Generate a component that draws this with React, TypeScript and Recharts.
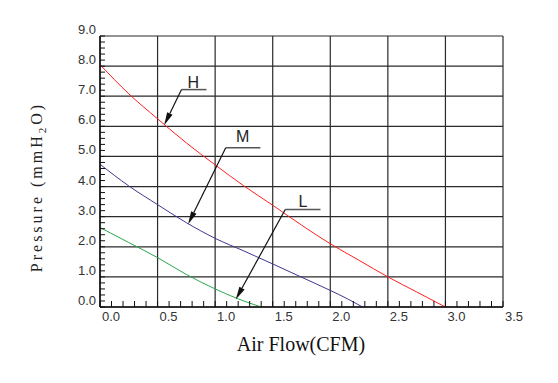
import React from "react";
import {
  LineChart, Line, XAxis, YAxis, CartesianGrid,
  ReferenceLine, ReferenceDot, Label
} from "recharts";

// fan curves (CFM, mmH2O)
const highCurve = [
  { x: 0, y: 8.05 }, { x: 0.25, y: 7.08 }, { x: 0.5, y: 6.25 }, { x: 0.75, y: 5.45 },
  { x: 1.0, y: 4.72 }, { x: 1.25, y: 4.02 }, { x: 1.5, y: 3.38 }, { x: 1.75, y: 2.72 },
  { x: 2.0, y: 2.1 }, { x: 2.25, y: 1.55 }, { x: 2.5, y: 1.0 }, { x: 2.75, y: 0.5 },
  { x: 3.0, y: 0 },
];
const midCurve = [
  { x: 0, y: 4.74 }, { x: 0.25, y: 4.02 }, { x: 0.5, y: 3.4 }, { x: 0.75, y: 2.8 },
  { x: 1.0, y: 2.28 }, { x: 1.25, y: 1.86 }, { x: 1.5, y: 1.43 }, { x: 1.75, y: 0.99 },
  { x: 2.0, y: 0.55 }, { x: 2.15, y: 0.27 }, { x: 2.28, y: 0 },
];
const lowCurve = [
  { x: 0, y: 2.64 }, { x: 0.25, y: 2.14 }, { x: 0.5, y: 1.64 }, { x: 0.75, y: 1.08 },
  { x: 1.0, y: 0.6 }, { x: 1.2, y: 0.27 }, { x: 1.4, y: 0 },
];

// axes
const xMajor = [0, 0.5, 1.0, 1.5, 2.0, 2.5, 3.0, 3.5];
const yMajor = [0, 1, 2, 3, 4, 5, 6, 7, 8, 9];
const xMinor = Array.from({ length: 36 }, (_, i) => i / 10);
const yMinor = Array.from({ length: 46 }, (_, i) => i / 5);

// curve call-outs: label, label pos, elbow, end of shelf, arrow tip
const callouts = [
  { name: "H", label: { x: 0.81, y: 7.47 }, elbow: { x: 0.708, y: 7.22 }, shelfEnd: 0.925, tip: { x: 0.557, y: 6.04 } },
  { name: "M", label: { x: 1.24, y: 5.65 }, elbow: { x: 1.092, y: 5.29 }, shelfEnd: 1.393, tip: { x: 0.765, y: 2.75 } },
  { name: "L", label: { x: 1.762, y: 3.49 }, elbow: { x: 1.609, y: 3.24 }, shelfEnd: 1.915, tip: { x: 1.179, y: 0.25 } },
];

const tickFont = "'Liberation Sans Narrow', 'Liberation Sans', Arial, sans-serif";
const serif = "'Liberation Serif', 'Times New Roman', serif";

const isHalf = (v: number) => Math.abs(v * 2 - Math.round(v * 2)) < 1e-9;
const isWhole = (v: number) => Math.abs(v - Math.round(v)) < 1e-9;

function XTick({ x, y, payload }: any) {
  const v = payload.value;
  return (
    <g>
      <line x1={x} y1={y} x2={x} y2={y - 6} stroke="#111" strokeWidth={1} />
      {isHalf(v) && (
        <text x={x + 11} y={y + 14} textAnchor="middle" fontSize={13}
          fontFamily={tickFont} fill="#333">
          {v.toFixed(1)}
        </text>
      )}
    </g>
  );
}

function YTick({ x, y, payload }: any) {
  const v = payload.value;
  return (
    <g>
      <line x1={x} y1={y} x2={x + 5} y2={y} stroke="#111" strokeWidth={1} />
      {isWhole(v) && (
        <text x={x - 4} y={y - 2} textAnchor="end" fontSize={13}
          fontFamily={tickFont} fill="#333">
          {v.toFixed(1)}
        </text>
      )}
    </g>
  );
}

function Arrow(props: any) {
  const { x1, y1, x2, y2 } = props;
  const dx = x2 - x1, dy = y2 - y1;
  const len = Math.sqrt(dx * dx + dy * dy) || 1;
  const ux = dx / len, uy = dy / len;
  const hl = 13, hw = 3;
  const bx = x2 - ux * hl, by = y2 - uy * hl;
  const pts = `${x2},${y2} ${bx - uy * hw},${by + ux * hw} ${bx + uy * hw},${by - ux * hw}`;
  return (
    <g>
      <line x1={x1} y1={y1} x2={bx} y2={by} stroke="#111" strokeWidth={1.2} />
      <polygon points={pts} fill="#111" />
    </g>
  );
}

function Shelf(props: any) {
  const { x1, y1, x2, y2 } = props;
  return <line x1={x1} y1={y1} x2={x2} y2={y2} stroke="#555" strokeWidth={1.5} />;
}

export default function App() {
  return (
    <div style={{ width: 558, height: 383, background: "#fff" }}>
      <style>{"body{margin:0}"}</style>
      <LineChart width={558} height={383} margin={{ top: 36, right: 55, left: 0, bottom: 0 }}>
        <CartesianGrid
          stroke="#2a2a2a"
          strokeWidth={1.2}
          horizontalValues={yMajor}
          verticalValues={xMajor}
        />
        <XAxis
          type="number"
          dataKey="x"
          domain={[0, 3.5]}
          ticks={xMinor}
          interval={0}
          height={76}
          tickLine={false}
          tickSize={0}
          tickMargin={0}
          tick={<XTick />}
          axisLine={{ stroke: "#111", strokeWidth: 1.5 }}
          allowDataOverflow
        >
          <Label
            content={() => (
              <text x={301} y={351} textAnchor="middle" fontSize={20}
                fontFamily={serif} fill="#111">
                Air Flow(CFM)
              </text>
            )}
          />
        </XAxis>
        <YAxis
          type="number"
          domain={[0, 9]}
          ticks={yMinor}
          interval={0}
          width={100}
          tickLine={false}
          tickSize={0}
          tickMargin={0}
          tick={<YTick />}
          axisLine={{ stroke: "#111", strokeWidth: 1.5 }}
          allowDataOverflow
        >
          <Label
            content={() => (
              <text x={42} y={187} textAnchor="middle" fontSize={16}
                fontFamily={serif} fill="#222" letterSpacing={3}
                transform="rotate(-90 42 187)">
                Pressure (mmH<tspan fontSize={11} dy={4}>2</tspan>
                <tspan dy={-4}>O)</tspan>
              </text>
            )}
          />
        </YAxis>

        <Line data={highCurve} dataKey="y" type="monotone" stroke="#ff2020"
          strokeWidth={1} dot={false} isAnimationActive={false} />
        <Line data={midCurve} dataKey="y" type="monotone" stroke="#3e3790"
          strokeWidth={1} dot={false} isAnimationActive={false} />
        <Line data={lowCurve} dataKey="y" type="monotone" stroke="#2aa84a"
          strokeWidth={1} dot={false} isAnimationActive={false} />

        {callouts.map((c) => (
          <ReferenceLine key={c.name + "s"} segment={[c.elbow, { x: c.shelfEnd, y: c.elbow.y }]}
            shape={<Shelf />} />
        ))}
        {callouts.map((c) => (
          <ReferenceLine key={c.name + "a"} segment={[c.elbow, c.tip]} shape={<Arrow />} />
        ))}
        {callouts.map((c) => (
          <ReferenceDot key={c.name + "t"} x={c.label.x} y={c.label.y} r={0}
            shape={(p: any) => (
              <text x={p.cx} y={p.cy} textAnchor="middle" dominantBaseline="central"
                fontSize={16} fontFamily="'Liberation Sans', Arial, sans-serif" fill="#222">
                {c.name}
              </text>
            )} />
        ))}
      </LineChart>
    </div>
  );
}
